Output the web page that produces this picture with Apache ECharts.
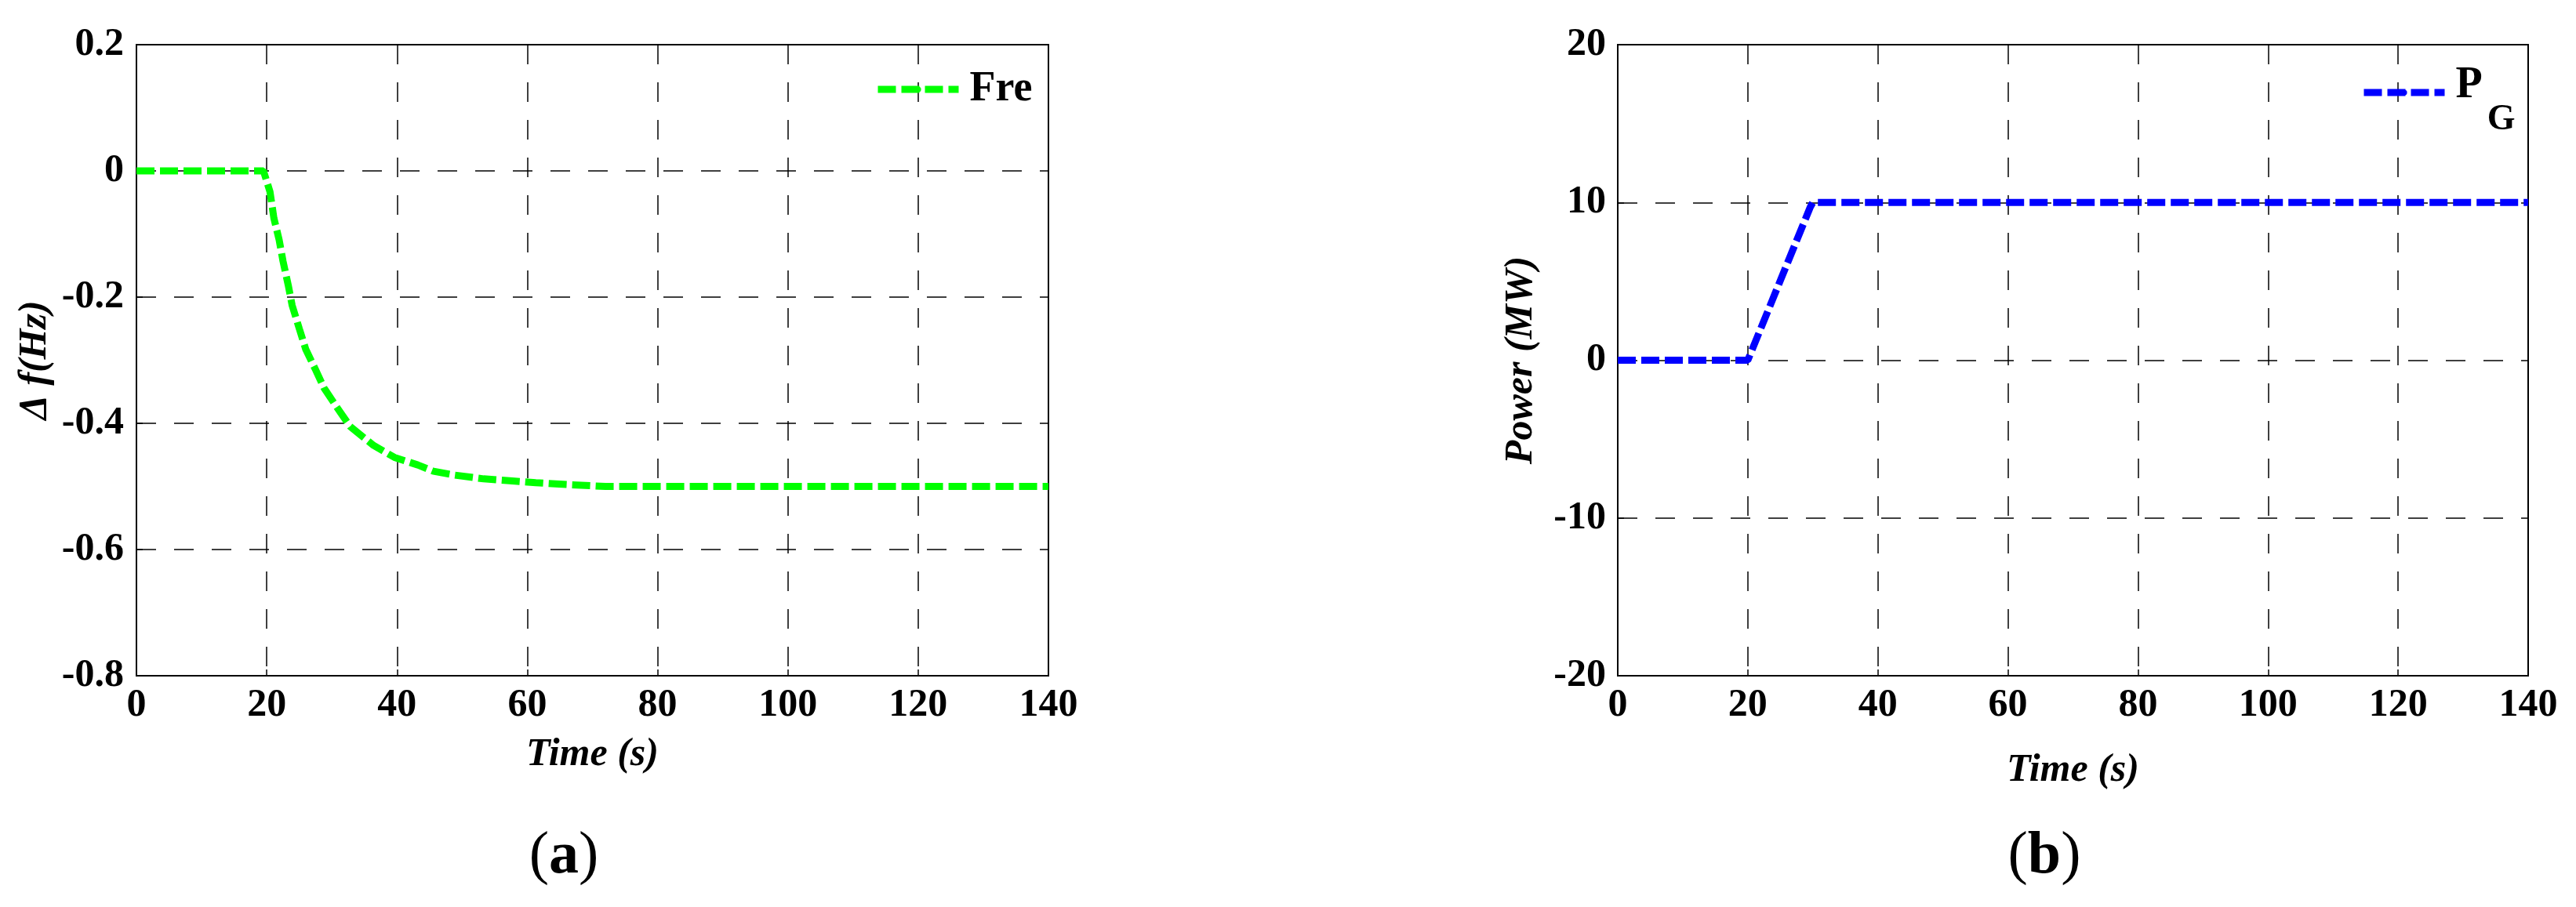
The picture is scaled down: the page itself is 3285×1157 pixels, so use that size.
<!DOCTYPE html>
<html>
<head>
<meta charset="utf-8">
<script src="https://cdn.jsdelivr.net/npm/echarts@6/dist/echarts.min.js"></script>
<style>
  html, body { margin: 0; padding: 0; background: #fff; }
  #chart-container { width: 3285px; height: 1157px; }
</style>
</head>
<body>
<div id="chart-container"></div>
<script>
// (a) frequency deviation
const freqTime = [0, 19.5, 20.5, 21.1, 21.9, 22.5, 23.3, 23.9, 25.0, 26.0, 27.4, 28.8, 30.6, 32.8, 36.4, 39.6, 43.2, 45.6, 48.8, 53.3, 57.3, 61.3, 66, 72, 140];
const freqDev = [0, 0, -0.033, -0.075, -0.109, -0.143, -0.181, -0.213, -0.25, -0.283, -0.313, -0.344, -0.372, -0.405, -0.435, -0.454, -0.466, -0.476, -0.482, -0.488, -0.491, -0.494, -0.497, -0.5, -0.5];

// (b) generator power
const powerTime = [0, 20, 20.4, 29.6, 30, 140];
const powerMW = [0, 0, 0.4, 9.7, 10, 10];

const timeTicks = { min: 0, max: 140, interval: 20 };

const FONT = "'Liberation Serif', 'Times New Roman', serif";

const zip = (xs, ys) => xs.map((x, i) => [x, ys[i]]);

const dom = document.getElementById('chart-container');
const myChart = echarts.init(dom, null, { renderer: 'canvas' });

const gridDash = { color: '#000', width: 1.5, type: [25, 23] };
const tickLabel = { color: '#000', fontFamily: FONT, fontWeight: 'bold', fontSize: 50 };
const axisName = { color: '#000', fontFamily: FONT, fontWeight: 'bold', fontStyle: 'italic', fontSize: 50 };

const xAxisBase = (gridIndex, gap) => ({
  type: 'value',
  gridIndex,
  ...timeTicks,
  name: 'Time (s)',
  nameLocation: 'middle',
  nameGap: gap,
  nameTextStyle: axisName,
  axisLine: { onZero: false, lineStyle: { color: '#000', width: 2 } },
  axisTick: { show: true, inside: true, length: 8, lineStyle: { color: '#000', width: 1.5 } },
  axisLabel: { ...tickLabel, margin: 13 },
  splitLine: { show: true, lineStyle: gridDash },
});

const yAxisBase = (gridIndex, name, min, max, interval, gap, margin) => ({
  type: 'value',
  gridIndex,
  min, max, interval,
  name,
  nameLocation: 'middle',
  nameRotate: 90,
  nameGap: gap,
  nameTextStyle: axisName,
  axisLine: { show: true, onZero: false, lineStyle: { color: '#000', width: 2 } },
  axisTick: { show: true, inside: true, length: 8, lineStyle: { color: '#000', width: 1.5 } },
  axisLabel: { ...tickLabel, margin },
  splitLine: { show: true, lineStyle: gridDash },
});

const panelTag = (letter, x) => ({
  text: '{p|(}{b|' + letter + '}{p|)}',
  left: x, top: 1050, textAlign: 'center',
  textStyle: { rich: {
    p: { fontFamily: FONT, fontSize: 76, fontWeight: 'normal', color: '#000' },
    b: { fontFamily: FONT, fontSize: 76, fontWeight: 'bold', color: '#000' },
  } },
});

const option = {
  animation: false,
  backgroundColor: '#fff',
  title: [panelTag('a', 714), panelTag('b', 2602)],
  legend: [
    {
      data: ['Fre'],
      left: 1115, top: 87, padding: 0,
      itemWidth: 103, itemHeight: 9,
      selectedMode: false,
      lineStyle: { width: 9, type: [23, 7] },
      textStyle: { fontFamily: FONT, fontWeight: 'bold', fontSize: 54, color: '#000', padding: [0, 0, 0, 9] },
    },
    {
      data: ['PG'],
      left: 3010, top: 82, padding: 0,
      itemWidth: 103, itemHeight: 9,
      selectedMode: false,
      lineStyle: { width: 9, type: [23, 7] },
      formatter: () => '{p|P}{g|G}',
      textStyle: {
        rich: {
          p: { fontFamily: FONT, fontWeight: 'bold', fontSize: 56, color: '#000', lineHeight: 72, verticalAlign: 'top', padding: [0, 0, 0, 9] },
          g: { fontFamily: FONT, fontWeight: 'bold', fontSize: 46, color: '#000', lineHeight: 40, verticalAlign: 'top', padding: [48, 0, 0, 6] },
        },
      },
    },
  ],
  grid: [
    { left: 174, top: 57, width: 1163, height: 805, show: true, borderColor: '#000', borderWidth: 2 },
    { left: 2063, top: 57, width: 1161, height: 805, show: true, borderColor: '#000', borderWidth: 2 },
  ],
  xAxis: [xAxisBase(0, 76), xAxisBase(1, 96)],
  yAxis: [
    yAxisBase(0, 'Δ f(Hz)', -0.8, 0.2, 0.2, 104, 16),
    yAxisBase(1, 'Power (MW)', -20, 20, 10, 98, 15),
  ],
  series: [
    {
      name: 'Fre',
      type: 'line',
      xAxisIndex: 0, yAxisIndex: 0,
      symbol: 'none',
      color: '#00ff00',
      lineStyle: { color: '#00ff00', width: 9, type: [23, 7] },
      data: zip(freqTime, freqDev),
    },
    {
      name: 'PG',
      type: 'line',
      xAxisIndex: 1, yAxisIndex: 1,
      symbol: 'none',
      color: '#0000ff',
      lineStyle: { color: '#0000ff', width: 9, type: [23, 7] },
      data: zip(powerTime, powerMW),
    },
  ],
};

myChart.setOption(option);
window.addEventListener('resize', myChart.resize);
</script>
</body>
</html>
